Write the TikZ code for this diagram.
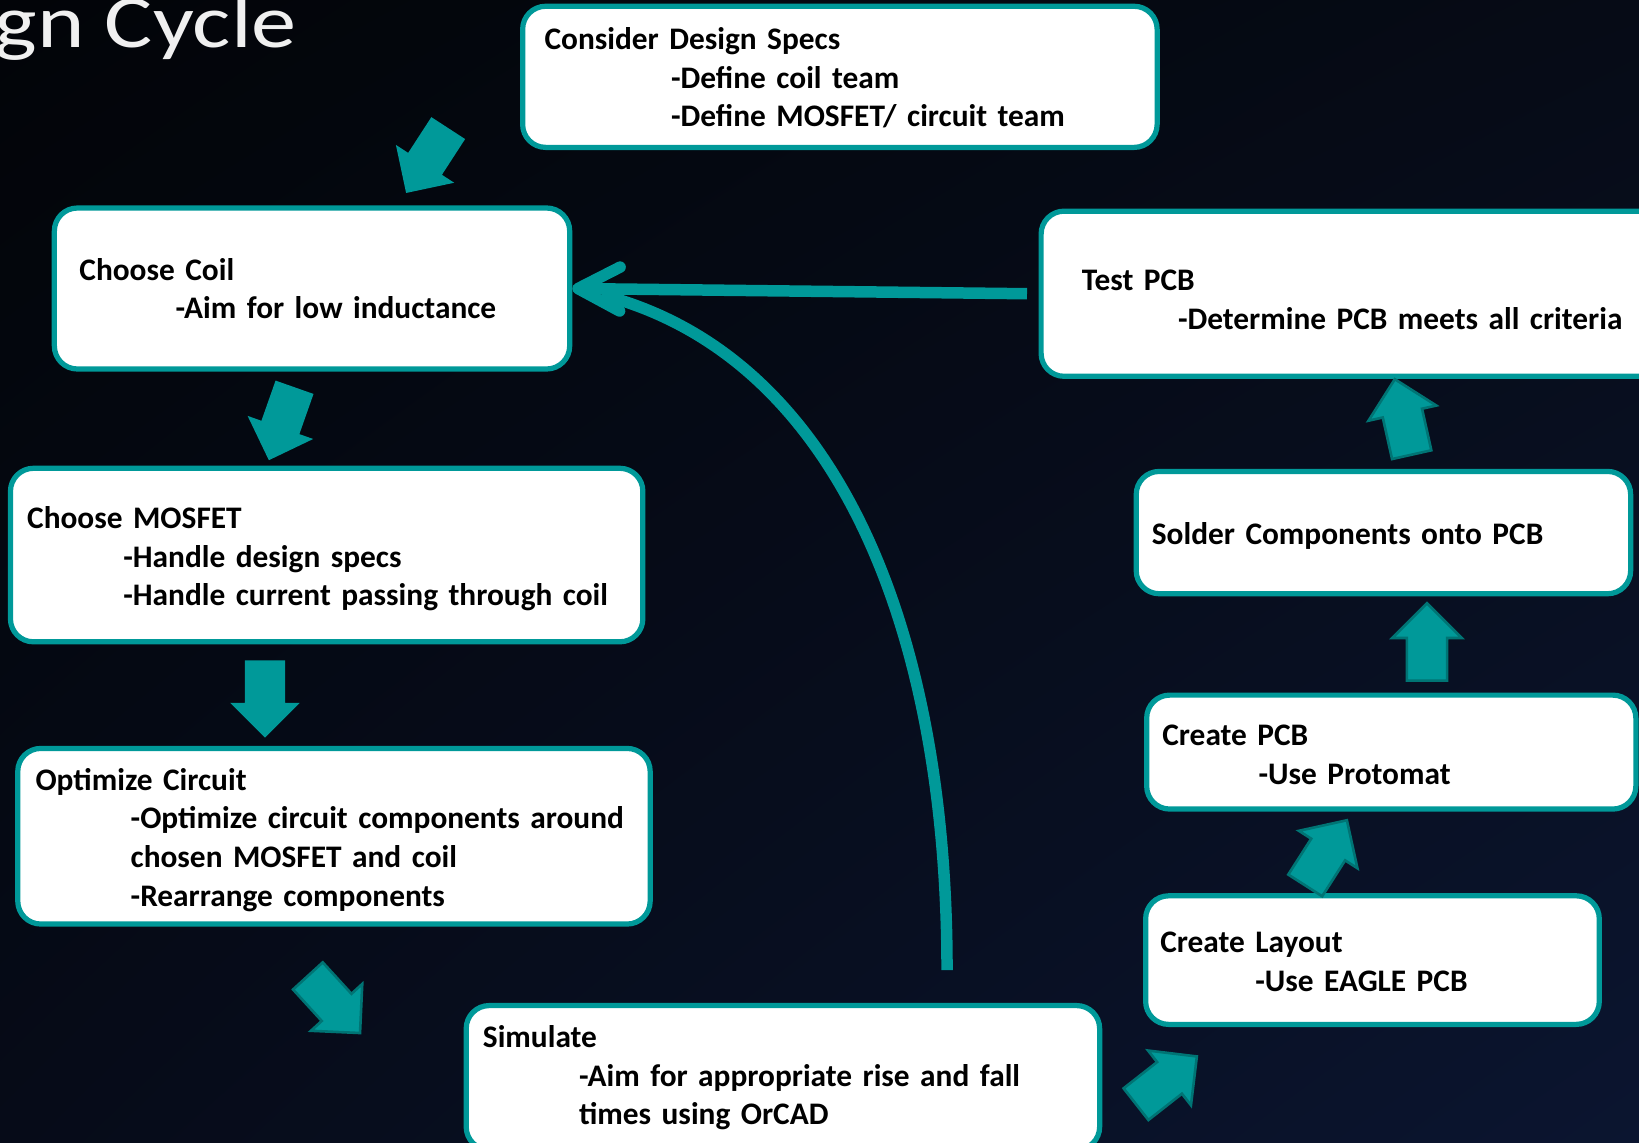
\documentclass[tikz,border=0pt]{standalone}
\usepackage{xcolor}
\usepackage{graphicx}
\usepackage{fontspec}
\setmainfont{Carlito}
\usetikzlibrary{shapes.arrows,arrows.meta,shadings}

\definecolor{aqua}{RGB}{0,153,153}
\definecolor{aquadark}{RGB}{0,116,116}
\definecolor{fondoA}{RGB}{2,4,8}
\definecolor{fondoB}{RGB}{6,11,22}
\definecolor{fondoC}{RGB}{6,11,24}
\definecolor{fondoD}{RGB}{11,21,48}

\begin{document}
\begin{tikzpicture}[x=1pt, y=-1pt,
    stage/.style={draw=aqua, line width=5pt, rounded corners=22pt, fill=white, text=black,
      align=left, inner ysep=0pt, font=\fontsize{30}{37}\selectfont\bfseries,
      execute at begin node={\hyphenpenalty=10000\relax}},
    flecha/.style={single arrow, fill=aqua, draw=aquadark, line width=2.5pt, anchor=tail,
      inner xsep=0pt, inner ysep=18pt, minimum width=0pt, minimum height=74pt,
      single arrow head extend=14pt},
    flecha3d/.style={flecha, draw=none},
    ciclo/.style={draw=aqua, line width=11pt}]
      \useasboundingbox (0,0) rectangle (1568,1093);
      \clip (0,0) rectangle (1568,1093);
      \shade[upper left=fondoA, upper right=fondoB, lower left=fondoC, lower right=fondoD]
        (0,0) rectangle (1568,1093);

      % Titulo
      \node[anchor=base east, inner sep=0pt, text=white!94!black, font=\fontsize{72}{72}\selectfont] (titulo) at (284,45) {\scalebox{1.2}[1]{gn Cycle}};

      % Nodos principales
      \node[stage, minimum width=607pt, minimum height=135pt, inner xsep=21pt, text width=565pt] (specs) at (803.5,73.5)
        {\rule{0pt}{23pt}Consider Design Specs\\\hspace*{121pt}-Define coil team\\\hspace*{121pt}-Define MOSFET/ circuit team};
      \node[stage, minimum width=493pt, minimum height=154pt, inner xsep=24pt, text width=445pt] (coil) at (298.5,276)
        {Choose Coil\\\hspace*{92pt}-Aim for low inductance};
      \node[stage, minimum width=605pt, minimum height=166pt, inner xsep=16pt, text width=573pt] (mosfet) at (312.5,531)
        {\rule{0pt}{28pt}Choose MOSFET\\\hspace*{92pt}-Handle design specs\\\hspace*{92pt}-Handle~current~passing~through~coil};
      \node[stage, minimum width=605pt, minimum height=168pt, inner xsep=17pt, text width=571pt] (optimize) at (319.5,800)
        {\rule{0pt}{28pt}Optimize Circuit\\\hspace*{91pt}-Optimize~circuit~components~around\\\hspace*{91pt}chosen MOSFET and coil\\\hspace*{91pt}-Rearrange components};
      \node[stage, minimum width=606pt, minimum height=138pt, inner xsep=16pt, text width=574pt] (simulate) at (749,1031)
        {Simulate\\\hspace*{92pt}-Aim~for~appropriate~rise~and~fall\\\hspace*{92pt}times using OrCAD};
      \node[stage, minimum width=434pt, minimum height=123pt, inner xsep=14pt, text width=406pt] (layout) at (1313,918.5)
        {\rule{0pt}{23pt}Create Layout\\\hspace*{91pt}-Use EAGLE PCB};
      \node[stage, minimum width=468pt, minimum height=109pt, inner xsep=15pt, text width=438pt] (pcb) at (1331,719.5)
        {\rule{0pt}{25pt}Create PCB\\\hspace*{92pt}-Use Protomat};
      \node[stage, minimum width=473pt, minimum height=117pt, inner xsep=15pt, text width=443pt] (solder) at (1323.5,509.5)
        {\rule{0pt}{27pt}Solder Components onto PCB};
      \node[stage, minimum width=594pt, minimum height=158pt, inner xsep=39pt, text width=516pt] (test) at (1293,281)
        {\rule{0pt}{31pt}Test PCB\\\hspace*{92pt}-Determine~PCB~meets~all~criteria};

      % Flechas del flujo principal
      \node[flecha3d, rotate=-123] (f1) at (429.5,121.5) {};
      \node[flecha3d, rotate=-109.4] (f2) at (282.2,369.3) {};
      \node[flecha3d, rotate=-90] (f3) at (253.5,630.4) {};
      \node[flecha, rotate=-47.6] (f4) at (293.7,932.7) {};
      \node[flecha, rotate=38.1] (f5) at (1085.8,1057.1) {};
      \node[flecha, rotate=57.4] (f6) at (1248,848.1) {};
      \node[flecha, rotate=90] (f7) at (1365.2,652.4) {};
      \node[flecha, rotate=102.6] (f8) at (1350.8,436.2) {};

      % Flujo de retorno
      \coordinate (retorno) at (906,928);
      \draw[ciclo] (retorno) .. controls (906,600) and (800,340) .. ([xshift=28pt, yshift=-6pt]coil.east);
      \draw[ciclo, -{Straight Barb[round, length=40pt, width=42pt]}] ([xshift=-11pt]test.west) -- (coil.east);
    \end{tikzpicture}
\end{document}
